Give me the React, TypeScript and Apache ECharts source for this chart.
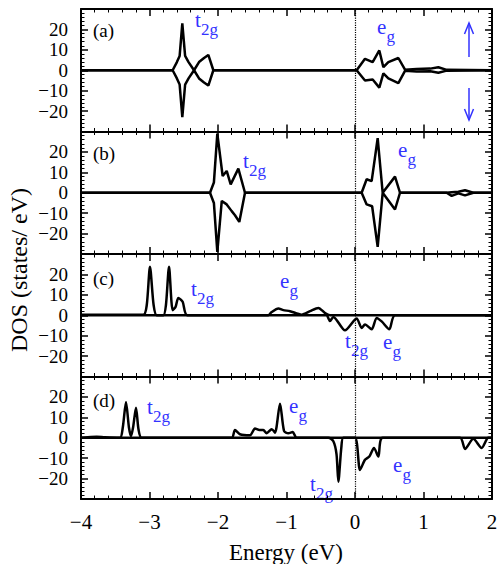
import React, { useEffect, useRef } from "react";
import * as echarts from "echarts";

// ---- data (Energy eV, DOS states/eV) ----
const panelA_up: [number, number][] = [
  [-4, 0], [-2.662, 0], [-2.6, 4], [-2.56, 7], [-2.521, 23], [-2.48, 7], [-2.43, 4], [-2.35, 0],
  [-2.277, 4], [-2.204, 6], [-2.141, 7.5], [-2.068, 0], [0.024, 0], [0.146, 5.6], [0.258, 4],
  [0.355, 9.7], [0.414, 1.5], [0.487, 4], [0.633, 6], [0.73, 0.3], [0.9, 0.6], [1.1, 0.8],
  [1.217, 1.5], [1.338, 0.2], [2, 0],
];
const panelA_dn: [number, number][] = [
  [-4, 0], [-2.662, 0], [-2.6, -4], [-2.56, -7], [-2.521, -23], [-2.48, -7], [-2.43, -4], [-2.35, 0],
  [-2.277, -4], [-2.204, -6], [-2.141, -7.5], [-2.068, 0], [0.024, 0], [0.146, -5], [0.258, -4.5],
  [0.355, -8.5], [0.414, -1.5], [0.487, -4], [0.633, -6.3], [0.73, -0.3], [0.9, -0.6], [1.1, -0.5],
  [1.217, -1.2], [1.338, -0.2], [2, 0],
];
const panelB_up: [number, number][] = [
  [-4, 0], [-2.117, 0], [-2.06, 5], [-2.01, 29], [-1.932, 8.2], [-1.873, 10.7], [-1.815, 4.1],
  [-1.703, 11.8], [-1.606, 0], [0.097, 0], [0.17, 6.6], [0.243, 5.7], [0.331, 26.7], [0.404, 0],
  [0.584, 7.9], [0.657, 0], [1.338, 0], [1.411, 0.3], [1.509, 0.5], [1.606, 1.2], [1.727, 0], [2, 0],
];
const panelB_dn: [number, number][] = [
  [-4, 0], [-2.117, 0], [-2.06, -5], [-2.01, -29], [-1.945, -4], [-1.873, -5.7], [-1.8, -9],
  [-1.752, -11], [-1.689, -14.3], [-1.606, 0], [0.097, 0], [0.17, -5.7], [0.25, -6.6], [0.331, -26.5],
  [0.404, 0], [0.584, -8.2], [0.657, 0], [1.338, 0], [1.411, -1.5], [1.509, -0.3], [1.606, -1.3],
  [1.727, 0], [2, 0],
];
const panelC_up: [number, number][] = [
  [-4, 0.2], [-3.09, 0.2], [-3.04, 5], [-2.993, 23.8], [-2.94, 5], [-2.895, 0], [-2.798, 0],
  [-2.76, 5], [-2.715, 23.8], [-2.662, 2.5], [-2.62, 4], [-2.579, 8.5], [-2.516, 6.6], [-2.448, 0],
  [-1.265, 0], [-1.216, 1.6], [-1.119, 3.3], [-1.046, 2.5], [-0.949, 2], [-0.779, 0.3], [-0.657, 2],
  [-0.535, 3.6], [-0.438, 1.1], [-0.365, 0], [2, 0],
];
const panelC_dn: [number, number][] = [
  [-4, 0], [-0.42, 0], [-0.365, -2.8], [-0.316, -0.8], [-0.146, -7.4], [0.024, -1.6], [0.097, -6.2],
  [0.146, -4.5], [0.243, -6.9], [0.316, -1.3], [0.389, -3], [0.501, -6.9], [0.584, 0], [2, 0],
];
const panelD_up: [number, number][] = [
  [-4, 0], [-3.9, 0.3], [-3.771, 0.5], [-3.65, 0.2], [-3.431, 0], [-3.39, 5], [-3.343, 17.5],
  [-3.3, 5], [-3.27, 0.8], [-3.24, 5], [-3.197, 14.7], [-3.16, 4], [-3.114, 0], [-1.8, 0],
  [-1.752, 3.8], [-1.679, 1.7], [-1.533, 1.2], [-1.46, 4.5], [-1.397, 3.8], [-1.338, 3.8],
  [-1.29, 2.2], [-1.216, 4.2], [-1.168, 2.5], [-1.095, 16.7], [-1.036, 3.3], [-0.973, 2.2],
  [-0.91, 2.8], [-0.851, 0], [2, 0],
];
const panelD_dn: [number, number][] = [
  [-4, 0], [-0.389, 0], [-0.316, -1.7], [-0.27, -8], [-0.243, -21.5], [-0.2, -5], [-0.17, 0],
  [0, 0], [0.073, -15.8], [0.146, -10.8], [0.209, -9.2], [0.277, -5], [0.341, -9.2], [0.404, 0],
  [1.533, 0], [1.606, -5.5], [1.727, -0.5], [1.849, -5], [1.946, 0], [2, 0],
];

const panelLabels = ["(a)", "(b)", "(c)", "(d)"];
const xTicks = [-4, -3, -2, -1, 0, 1, 2];
const yTicks = [-20, -10, 0, 10, 20];

const FONT = "'Liberation Serif', 'Times New Roman', serif";
const BLUE = "#3333ff";

export default function App() {
  const ref = useRef<HTMLDivElement>(null);
  useEffect(() => {
    if (!ref.current) return;
    const chart = echarts.init(ref.current, null, { renderer: "svg" });
    const tops = [9, 131.5, 254, 376.5];
    const H = 122.5;
    const L = 81;
    const W = 411;
    const panels = [
      [panelA_up, panelA_dn],
      [panelB_up, panelB_dn],
      [panelC_up, panelC_dn],
      [panelD_up, panelD_dn],
    ];
    const smoothP = [false, false, 0.25, 0.25];
    const fmtMinus = (v: number) => String(v).replace("-", "\u2212");

    const grids: any[] = [];
    const xAxes: any[] = [];
    const yAxes: any[] = [];
    const series: any[] = [];
    const tickCommon = {
      axisLine: { show: true, onZero: false, lineStyle: { color: "#000", width: 2 } },
      axisTick: { show: true, inside: true, length: 7, lineStyle: { color: "#000", width: 1.5 } },
      minorTick: { show: true, splitNumber: 5, length: 3.5, lineStyle: { color: "#000", width: 1 } },
      splitLine: { show: false },
      minorSplitLine: { show: false },
    };
    panels.forEach((p, i) => {
      grids.push({ left: L, top: tops[i], width: W, height: H, show: false });
      const last = i === 3;
      xAxes.push({
        type: "value", gridIndex: i, position: "bottom", min: -4, max: 2, interval: 1,
        ...tickCommon,
        axisLabel: {
          show: last, margin: 12, color: "#000", fontFamily: FONT, fontSize: 21,
          formatter: (v: number) => (xTicks.includes(v) ? fmtMinus(v) : ""),
        },
      });
      xAxes.push({
        type: "value", gridIndex: i, position: "top", min: -4, max: 2, interval: 1,
        ...tickCommon,
        axisLabel: { show: false },
      });
      yAxes.push({
        type: "value", gridIndex: i, position: "left", min: -30, max: 30, interval: 10,
        ...tickCommon,
        axisLabel: {
          show: true, margin: 13, color: "#000", fontFamily: FONT, fontSize: 19,
          lineHeight: 19, showMinLabel: false, showMaxLabel: false,
          formatter: (v: number) => (yTicks.includes(v) ? fmtMinus(v) : ""),
        },
      });
      yAxes.push({
        type: "value", gridIndex: i, position: "right", min: -30, max: 30, interval: 10,
        ...tickCommon,
        axisLabel: { show: false },
      });
      p.forEach((d, k) => {
        series.push({
          type: "line",
          xAxisIndex: 2 * i,
          yAxisIndex: 2 * i,
          data: d,
          showSymbol: false,
          smooth: smoothP[i],
          lineStyle: { color: "#000", width: 2.5 },
          z: 3,
          markLine: k === 0 ? {
            silent: true,
            symbol: ["none", "none"],
            label: { show: false },
            lineStyle: { color: "#000", type: "dotted", width: 1.2 },
            data: [{ xAxis: 0 }],
          } : undefined,
        });
      });
    });

    const txt = (x: number, y: number, s: string, size: number, color = "#000", extra: any = {}) => ({
      type: "text", x, y, ...extra,
      style: {
        text: s, fill: color, font: `${size}px ${FONT}`,
        textAlign: "left", textVerticalAlign: "middle", align: "left", verticalAlign: "middle",
      },
    });
    const orb = (x: number, y: number, main: string, sub: string) => {
      const w = main === "t" ? 6 : 9.5;
      return [txt(x, y, main, 21, BLUE), txt(x + w, y + 9, sub, 17, BLUE)];
    };
    const panelTextY = [30, 153, 278, 400];
    const graphics: any[] = [];
    panelLabels.forEach((s, i) => graphics.push(txt(93, panelTextY[i], s, 19)));
    graphics.push(
      ...orb(195, 20, "t", "2g"), ...orb(377, 27, "e", "g"),
      ...orb(243, 161, "t", "2g"), ...orb(398, 150, "e", "g"),
      ...orb(191, 289, "t", "2g"), ...orb(280, 281, "e", "g"),
      ...orb(345, 341, "t", "2g"), ...orb(383, 342, "e", "g"),
      ...orb(147, 407, "t", "2g"), ...orb(289, 406, "e", "g"),
      ...orb(393, 465, "e", "g"), ...orb(310, 484, "t", "2g"),
    );
    // spin arrows
    graphics.push(
      { type: "line", shape: { x1: 469, y1: 57, x2: 469, y2: 23 }, style: { stroke: BLUE, lineWidth: 1.5 } },
      { type: "polyline", shape: { points: [[464.5, 34], [469, 23], [473.5, 34]] }, style: { stroke: BLUE, lineWidth: 1.5, fill: null } },
      { type: "line", shape: { x1: 469, y1: 88, x2: 469, y2: 120 }, style: { stroke: BLUE, lineWidth: 1.5 } },
      { type: "polyline", shape: { points: [[464.5, 109], [469, 120], [473.5, 109]] }, style: { stroke: BLUE, lineWidth: 1.5, fill: null } },
    );
    graphics.push({
      type: "text", x: 286, y: 552,
      style: { text: "Energy (eV)", fill: "#000", font: `23px ${FONT}`, textAlign: "center", textVerticalAlign: "middle", align: "center", verticalAlign: "middle" },
    });
    graphics.push({
      type: "text", x: 19, y: 270, rotation: Math.PI / 2,
      style: { text: "DOS (states/ eV)", fill: "#000", font: `24px ${FONT}`, textAlign: "center", textVerticalAlign: "middle", align: "center", verticalAlign: "middle" },
    });

    chart.setOption({
      animation: false,
      backgroundColor: "#fff",
      grid: grids,
      xAxis: xAxes,
      yAxis: yAxes,
      series,
      graphic: graphics,
    });
    return () => chart.dispose();
  }, []);
  return (
    <div
      ref={ref}
      style={{ position: "absolute", left: 0, top: 0, width: 501, height: 564 }}
    />
  );
}
